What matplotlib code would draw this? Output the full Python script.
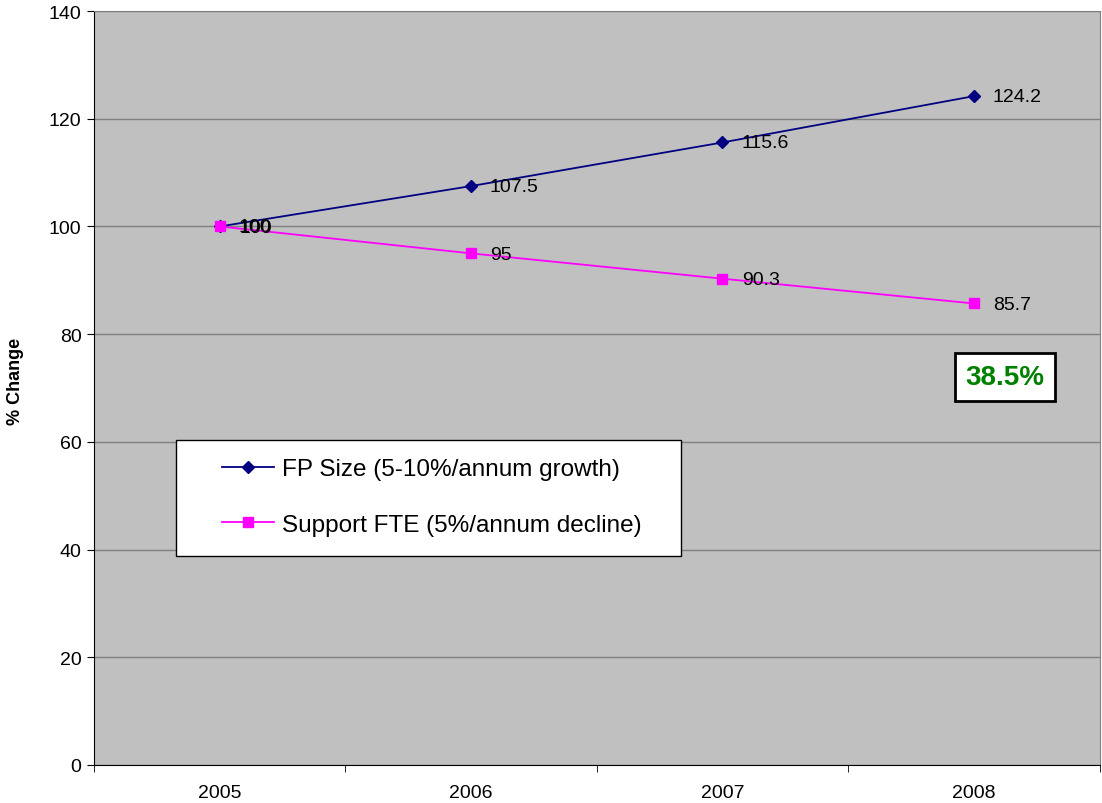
import numpy as np
import matplotlib.pyplot as plt
from matplotlib.patches import Rectangle

plt.rcParams['font.family'] = ['Liberation Sans', 'DejaVu Sans']

# data
years = ['2005', '2006', '2007', '2008']
fp_size = [100, 107.5, 115.6, 124.2]
support_fte = [100, 95, 90.3, 85.7]
fp_labels = ['100', '107.5', '115.6', '124.2']
fte_labels = ['100', '95', '90.3', '85.7']
gap_text = '38.5%'

x = np.arange(len(years))

fig = plt.figure(figsize=(11.02, 8.04), dpi=100)
ax = fig.add_axes([0.0853, 0.0473, 0.9125, 0.9377])
ax.set_facecolor('#C0C0C0')

ax.plot(x, fp_size, color='#000080', lw=1.3, marker='D', ms=6.5,
        label='FP Size (5-10%/annum growth)', zorder=3)
ax.plot(x, support_fte, color='#FF00FF', lw=1.3, marker='s', ms=7.5,
        label='Support FTE (5%/annum decline)', zorder=4)

# data labels (the two 100s overlap like in the original)
for xi, v, t in zip(x, fp_size, fp_labels):
    ax.annotate(t, (xi, v), xytext=(13.5, 0), textcoords='offset points',
                va='center', fontsize=14, zorder=5)
for xi, v, t in zip(x, support_fte, fte_labels):
    ax.annotate(t, (xi, v), xytext=(14, -0.5), textcoords='offset points',
                va='center', fontsize=14, zorder=5)

ax.set_xlim(-0.5, 3.5)
ax.set_ylim(0, 140)
ax.set_yticks(np.arange(0, 141, 20))
ax.set_xticks(x)
ax.set_xticklabels(years)
ax.set_xticks(np.arange(-0.5, 3.6, 1), minor=True)
ax.tick_params(axis='x', which='major', length=0, pad=14, labelsize=14)
ax.tick_params(axis='x', which='minor', length=5, color='black')
ax.tick_params(axis='y', length=5, labelsize=14, pad=4)
ax.grid(axis='y', color='#808080', lw=1)
ax.set_axisbelow(True)
for s in ['top', 'right']:
    ax.spines[s].set_color('#808080')
for s in ['left', 'bottom']:
    ax.spines[s].set_color('black')

ax.set_ylabel('% Change', fontsize=13, fontweight='bold')
ax.yaxis.set_label_coords(-0.0695, 0.51)

# legend box
ax.add_patch(Rectangle((0.082, 0.277), 0.502, 0.154, transform=ax.transAxes,
                       facecolor='white', edgecolor='black', lw=1, zorder=5))
leg = ax.legend(loc='center', bbox_to_anchor=(0.3357, 0.3554), frameon=False,
                fontsize=17.5, handlelength=2.14, labelspacing=1.39, handletextpad=0.33)
leg.set_zorder(6)

ax.text(0.906, 0.5146, gap_text, transform=ax.transAxes, ha='center', va='center',
        fontsize=20, fontweight='bold', color='#008000', zorder=6,
        bbox=dict(boxstyle='square,pad=0.38', facecolor='white', edgecolor='black', lw=2))

plt.savefig('out.png', dpi=100)
